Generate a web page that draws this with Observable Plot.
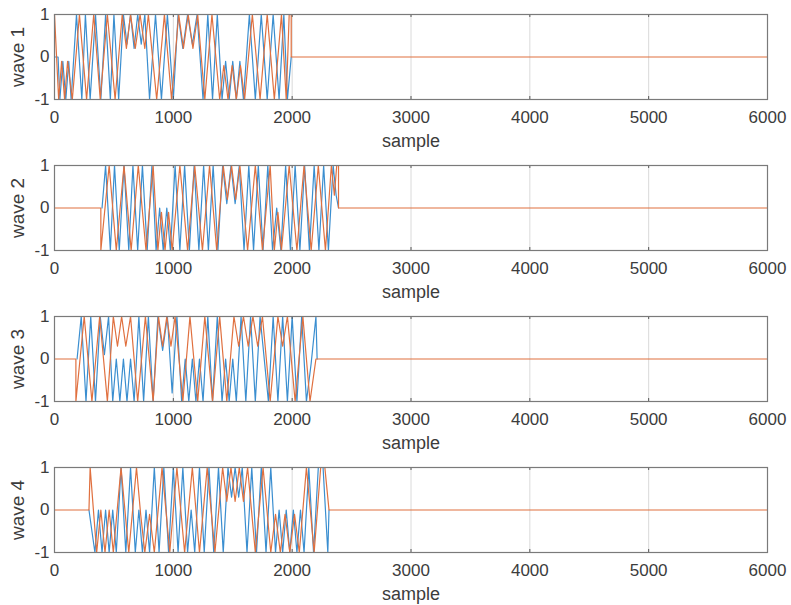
<!DOCTYPE html>
<html>
<head>
<meta charset="utf-8">
<script src="https://cdn.jsdelivr.net/npm/d3@7"></script>
<script src="https://cdn.jsdelivr.net/npm/@observablehq/plot@0.6"></script>
<style>
  html, body { margin: 0; padding: 0; background: #fff; }
  #chart { width: 791px; }
  #chart svg { display: block; }
</style>
</head>
<body>
<div id="chart"></div>
<script>
// ---- data (vertex [sample, value] of each trace) ----
const xTicks = [0, 1000, 2000, 3000, 4000, 5000, 6000];
const yTicks = [-1, 0, 1];
const waveLabels = ["wave 1", "wave 2", "wave 3", "wave 4"];
const xLabel = "sample";

const wave1Blue = [[0,0],[30,0],[45,-1],[70,-0.1],[95,-1],[120,-0.1],[140,-1],[185,1],[230,-1],[260,1],[300,-1],[345,1],[390,-1],[430,1],[470,-1],[500,1],[540,-1],[580,1],[610,0.3],[640,1],[670,0.2],[700,1],[730,0.3],[760,1],[800,-1],[850,1],[900,-1],[950,1],[1000,-1],[1040,1],[1080,0.2],[1120,1],[1160,0.3],[1200,1],[1250,-1],[1290,1],[1330,-1],[1370,1],[1410,-1],[1440,-0.1],[1470,-1],[1500,-0.1],[1530,-1],[1560,-0.1],[1590,-1],[1640,1],[1690,-1],[1740,1],[1790,-1],[1840,1],[1890,-1],[1930,1],[1960,-1],[1992,0]];
const wave1Orange = [[0,1],[35,-1],[60,-0.1],[85,-1],[110,-0.1],[150,-1],[210,1],[270,-1],[330,1],[385,-1],[445,1],[510,-1],[570,1],[605,0.2],[640,1],[680,0.2],[720,1],[760,0.2],[790,1],[860,-1],[925,1],[985,-1],[1045,1],[1085,0.2],[1125,1],[1165,0.2],[1205,1],[1265,-1],[1325,1],[1390,-1],[1425,-0.2],[1460,-1],[1495,-0.2],[1530,-1],[1565,-0.2],[1600,-1],[1665,1],[1730,-1],[1790,1],[1850,-1],[1910,1],[1950,-1],[1975,1],[1992,1],[1992,0],[6000,0]];

const wave2Blue = [[400,0],[430,1],[470,-1],[505,1],[545,-1],[585,1],[625,-1],[660,1],[700,-1],[740,1],[780,-1],[820,1],[855,-1],[885,0],[915,-1],[945,0],[975,-1],[1015,1],[1055,-1],[1095,1],[1135,-1],[1175,1],[1215,-1],[1255,1],[1295,-1],[1335,1],[1375,-1],[1415,1],[1450,0.1],[1485,1],[1520,0.1],[1555,1],[1595,-1],[1635,1],[1675,-1],[1715,1],[1755,-1],[1795,1],[1835,-1],[1870,0],[1905,-1],[1945,1],[1985,-1],[2025,1],[2065,-1],[2105,1],[2145,-1],[2185,1],[2225,-1],[2265,1],[2305,-1],[2345,1],[2370,0.3],[2390,0]];
const wave2Orange = [[0,0],[390,0],[390,-1],[460,1],[520,-1],[585,1],[645,-1],[705,1],[770,-1],[830,1],[870,-1],[900,-0.1],[930,-1],[960,-0.1],[990,-1],[1055,1],[1120,-1],[1180,1],[1245,-1],[1305,1],[1365,-1],[1420,1],[1455,0.2],[1490,1],[1525,0.2],[1560,1],[1625,-1],[1690,1],[1750,-1],[1815,1],[1850,-1],[1880,-0.1],[1910,-1],[1975,1],[2040,-1],[2100,1],[2160,-1],[2220,1],[2280,-1],[2330,1],[2355,0.3],[2375,1],[2390,1],[2390,0],[6000,0]];

const wave3Blue = [[190,0],[225,1],[265,-1],[305,1],[345,-1],[385,1],[420,0.1],[455,1],[490,-1],[520,0],[550,-1],[580,0],[610,-1],[640,0],[670,-1],[710,1],[750,-1],[790,1],[830,-1],[870,1],[910,0.2],[950,1],[990,-0.8],[1030,1],[1070,-1],[1100,0],[1130,-1],[1160,0],[1190,-1],[1220,0],[1250,-1],[1290,1],[1330,-1],[1370,1],[1410,-1],[1440,0],[1470,-1],[1500,0],[1530,-1],[1570,1],[1610,-1],[1650,1],[1690,-1],[1730,1],[1765,0],[1800,-1],[1840,1],[1880,-1],[1920,1],[1960,-1],[2000,1],[2040,-1],[2080,1],[2120,-1],[2160,-0.1],[2200,1],[2210,0]];
const wave3Orange = [[0,0],[180,0],[180,-1],[250,1],[315,-1],[380,1],[445,-1],[495,1],[530,0.3],[565,1],[600,0.3],[640,1],[700,-1],[765,1],[830,-1],[875,1],[910,0.3],[945,1],[980,0.3],[1015,1],[1080,-1],[1140,1],[1205,-1],[1265,1],[1330,-1],[1390,1],[1450,-1],[1510,1],[1550,0.3],[1590,1],[1630,0.3],[1670,1],[1710,0.3],[1750,1],[1815,-1],[1880,1],[1920,0.3],[1960,1],[2025,-1],[2090,1],[2150,-1],[2200,0],[6000,0]];

const wave4Blue = [[290,0],[340,-1],[370,0],[400,-1],[430,0],[460,-1],[490,0],[520,-1],[560,1],[600,-1],[640,1],[680,-1],[710,0],[740,-1],[770,0],[800,-1],[840,1],[880,-1],[920,1],[960,-1],[1000,1],[1040,-1],[1080,1],[1120,-1],[1150,0],[1180,-1],[1220,1],[1260,-1],[1300,1],[1340,-1],[1380,1],[1420,-1],[1460,1],[1490,0.3],[1520,1],[1550,0.3],[1580,1],[1620,-1],[1660,1],[1700,-1],[1740,1],[1780,-1],[1820,1],[1860,-1],[1890,0],[1920,-1],[1950,0],[1980,-1],[2010,0],[2040,-1],[2070,0],[2100,-1],[2140,1],[2180,-1],[2220,1],[2260,1],[2300,-1],[2310,0]];
const wave4Orange = [[0,0],[290,0],[300,1],[355,-1],[390,0],[425,-1],[460,0],[495,-1],[560,1],[625,-1],[690,1],[725,-0.1],[760,-1],[800,-0.1],[840,-1],[905,1],[970,-1],[1030,1],[1095,-1],[1160,1],[1220,-1],[1285,1],[1350,-1],[1415,1],[1450,0.2],[1485,1],[1520,0.2],[1555,1],[1590,0.2],[1625,1],[1690,-1],[1755,1],[1820,-1],[1860,-0.1],[1900,-1],[1940,-0.1],[1980,-1],[2020,-0.1],[2060,-1],[2120,1],[2185,-1],[2240,1],[2275,1],[2310,0],[6000,0]];

const blueTraces = [wave1Blue, wave2Blue, wave3Blue, wave4Blue];
const orangeTraces = [wave1Orange, wave2Orange, wave3Orange, wave4Orange];

// ---- drawing ----
const BLUE = "#3a8ed0", ORANGE = "#e0703f";
const container = document.getElementById("chart");

function toRows(trace) { return trace.map(([x, y]) => ({x, y})); }

for (let i = 0; i < 4; i++) {
  const chart = Plot.plot({
    width: 791,
    height: 151,
    marginTop: 14,
    marginBottom: 52,
    marginLeft: 54,
    marginRight: 24,
    style: {fontFamily: "'Liberation Sans', Arial, Helvetica, sans-serif", fontSize: "17px", color: "#3c3c3c", background: "#fff"},
    x: {domain: [0, 6000]},
    y: {domain: [-1, 1]},
    marks: [
      Plot.gridX(xTicks, {stroke: "#dadada", strokeOpacity: 1, strokeWidth: 1}),
      Plot.line(toRows(blueTraces[i]), {x: "x", y: "y", stroke: BLUE, strokeWidth: 1.2}),
      Plot.line(toRows(orangeTraces[i]), {x: "x", y: "y", stroke: ORANGE, strokeWidth: 1.2}),
      Plot.ruleX(xTicks, {y1: -1, y2: -0.93, stroke: "#555"}),
      Plot.ruleX(xTicks, {y1: 1, y2: 0.93, stroke: "#555"}),
      Plot.frame({stroke: "#7a7a7a", strokeWidth: 1.2}),
      Plot.axisX(xTicks, {tickSize: 0, tickPadding: 11, fontSize: 17, tickFormat: d => String(d), label: null}),
      Plot.axisX({ticks: [], label: xLabel, labelAnchor: "center", labelOffset: 47, labelArrow: "none", fontSize: 18}),
      Plot.axisY(yTicks, {tickSize: 0, tickPadding: 5, fontSize: 17, tickFormat: d => d < 0 ? "-" + Math.abs(d) : String(d), label: null}),
      Plot.axisY({ticks: [], label: waveLabels[i], labelAnchor: "center", labelOffset: 44, labelArrow: "none", fontSize: 19})
    ]
  });
  container.appendChild(chart);
}
</script>
</body>
</html>
